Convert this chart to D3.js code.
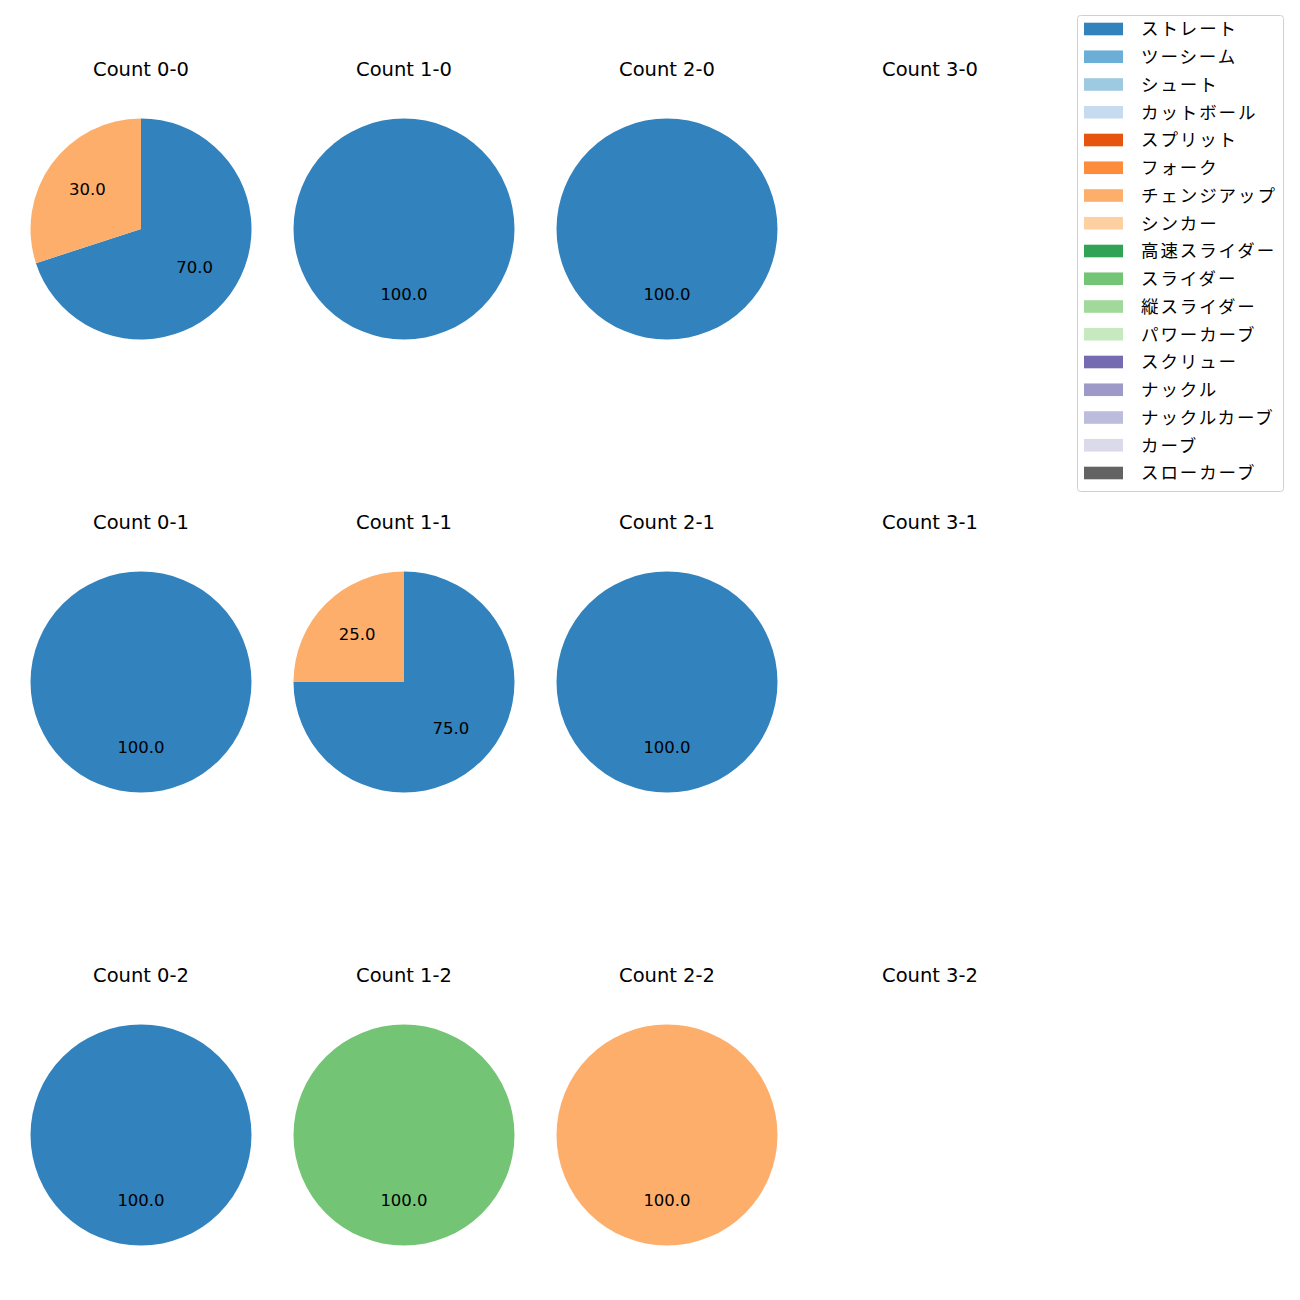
<!DOCTYPE html>
<html><head><meta charset="utf-8">
<script src="https://cdn.jsdelivr.net/npm/d3@7"></script>
<style>body{margin:0;background:#fff;} svg{display:block;}</style>
</head><body>
<svg id="chart" width="1300" height="1300"></svg>
<script>
const pitchTypes = ["ストレート","ツーシーム","シュート","カットボール","スプリット","フォーク","チェンジアップ","シンカー","高速スライダー","スライダー","縦スライダー","パワーカーブ","スクリュー","ナックル","ナックルカーブ","カーブ","スローカーブ"];
const pitchColors = ["#3182bd","#6baed6","#9ecae1","#c6dbef","#e6550d","#fd8d3c","#fdae6b","#fdd0a2","#31a354","#74c476","#a1d99b","#c7e9c0","#756bb1","#9e9ac8","#bcbddc","#dadaeb","#636363"];
const panelTitles = ["Count 0-0","Count 1-0","Count 2-0","Count 3-0","Count 0-1","Count 1-1","Count 2-1","Count 3-1","Count 0-2","Count 1-2","Count 2-2","Count 3-2"];
// share (%) per panel, row-major
const straightPct  = [70,100,100,0, 100,75,100,0, 100,0,0,0];
const changeupPct  = [30,0,0,0,     0,25,0,0,     0,0,100,0];
const sliderPct    = [0,0,0,0,      0,0,0,0,      0,100,0,0];

const seriesByType = {"ストレート": straightPct, "チェンジアップ": changeupPct, "スライダー": sliderPct};
const color = d3.scaleOrdinal().domain(pitchTypes).range(pitchColors);

const svg = d3.select("#chart");
const latin = "'DejaVu Sans', 'Noto Sans CJK JP', sans-serif";
const jp = "'Noto Sans CJK JP', 'DejaVu Sans', sans-serif";

const colX = d3.scalePoint().domain([0,1,2,3]).range([141, 930]);
const rowY = d3.scalePoint().domain([0,1,2]).range([229, 1135]);
const R = 110.5;

const pie = d3.pie().sort(null).value(d => d.value).startAngle(0).endAngle(2*Math.PI);
const arc = d3.arc().innerRadius(0).outerRadius(R);
const labelArc = d3.arc().innerRadius(R*0.6).outerRadius(R*0.6);

panelTitles.forEach((title, i) => {
  const col = i % 4, row = Math.floor(i / 4);
  const cx = colX(col), cy = rowY(row);
  const g = svg.append("g").attr("transform", `translate(${cx},${cy})`);
  g.append("text").attr("x", 0).attr("y", -153.5)
    .attr("text-anchor", "middle").attr("font-family", latin).attr("font-size", 19.5)
    .attr("fill", "#000").text(title);
  const data = pitchTypes.filter(t => seriesByType[t] && seriesByType[t][i] > 0)
    .map(t => ({type: t, value: seriesByType[t][i]}));
  if (!data.length) return;
  const arcs = pie(data);
  g.selectAll("path.w").data(arcs).enter().append("path")
    .attr("d", arc).attr("fill", d => color(d.data.type));
  g.selectAll("text.l").data(arcs).enter().append("text")
    .attr("transform", d => `translate(${labelArc.centroid(d)})`)
    .attr("dy", "0.3em").attr("text-anchor", "middle")
    .attr("font-family", latin).attr("font-size", 16.5).attr("fill", "#000")
    .text(d => d.data.value.toFixed(1));
});

// legend
const lg = svg.append("g").attr("transform", "translate(1077,15)");
lg.append("rect").attr("x", 0.5).attr("y", 0.5).attr("width", 206).attr("height", 476)
  .attr("rx", 3).attr("fill", "#fff").attr("fill-opacity", 0.8).attr("stroke", "#d0d0d0");
const ly = d3.scalePoint().domain(pitchTypes).range([14, 458]);
const items = lg.selectAll("g.it").data(pitchTypes).enter().append("g")
  .attr("transform", d => `translate(0,${ly(d)})`);
items.append("rect").attr("x", 7).attr("y", -6.3).attr("width", 39).attr("height", 12.6)
  .attr("fill", d => color(d));
items.append("text").attr("x", 64).attr("y", 0).attr("dy", "0.36em")
  .attr("font-family", jp).attr("font-size", 17.5).attr("letter-spacing", 1.9)
  .attr("fill", "#000").text(d => d);
</script>
</body></html>
